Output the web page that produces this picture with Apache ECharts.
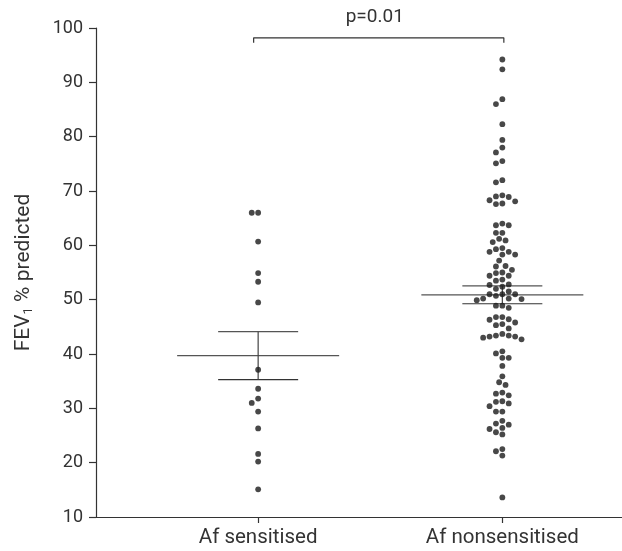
<!DOCTYPE html>
<html><head><meta charset="utf-8">
<script src="https://cdn.jsdelivr.net/npm/echarts@6/dist/echarts.min.js"></script>
<style>html,body{margin:0;padding:0;background:#fff}#c{width:622px;height:551px}</style>
</head><body><div id="c"></div>
<script>
// ---- data ----
const categories = ['Af sensitised', 'Af nonsensitised'];
const sensitised = [66.0, 66.0, 60.7, 54.9, 53.3, 49.5, 37.1, 33.6, 31.8, 31.0, 29.4, 26.3, 21.6, 20.2, 15.1];
const nonsensitised = [
  94.2, 92.4, 86.9, 86.0, 82.3, 79.4, 78.0, 77.1, 75.5, 75.1, 71.6, 72.0,
  69.0, 69.2, 68.9, 68.1, 67.6, 67.7, 68.3,
  63.7, 64.0, 63.7, 62.3, 62.3, 60.9, 60.6, 61.2,
  59.3, 58.8, 58.3, 58.3, 58.8, 59.5, 57.2,
  56.2, 56.1, 55.5, 54.9, 55.0, 54.4, 54.4, 53.7, 53.5,
  52.8, 52.7, 52.4, 52.0, 51.5, 50.7, 51.0, 51.0, 51.0, 50.1, 49.9, 50.2, 50.2, 48.9, 48.5, 48.9,
  46.4, 46.3, 46.8, 46.8, 45.8, 45.3, 44.7, 45.5,
  43.4, 43.2, 43.0, 42.7, 43.2, 43.4, 43.7,
  40.1, 40.5, 39.3, 39.3,
  37.8, 35.9, 34.8, 34.3, 32.9, 32.4, 32.7, 31.2, 30.9, 31.3, 30.4, 29.4, 29.4,
  27.7, 27.0, 27.2, 26.2, 26.4, 25.6, 25.2, 22.5, 22.1, 21.3, 13.6
];
const groupMeans = [39.7, 50.9];
const groupSems = [4.4, 1.65];
const yMin = 10, yMax = 100, yStep = 10;
const pValueText = 'p=0.01';
const bracketLevel = 98.2;
const bracketDrop = 0.9;

// ---- chart ----
const chart = echarts.init(document.getElementById('c'), null, {renderer: 'canvas'});
const FONT = 'Roboto';
const INK = '#333';

const base = {
  animation: false,
  grid: {left: 96, right: 0, top: 28, bottom: 34},
  xAxis: {
    type: 'value', min: 0.336, max: 2.49,
    splitLine: {show: false},
    axisLine: {show: true, lineStyle: {color: INK, width: 1.2}},
    axisTick: {show: true, length: 6, lineStyle: {color: INK, width: 1.2}, customValues: [1, 2]},
    axisLabel: {
      customValues: [1, 2], margin: 10, fontSize: 20.5, color: INK, fontFamily: FONT,
      formatter: v => categories[Math.round(v) - 1] || ''
    }
  },
  yAxis: {
    type: 'value', min: yMin, max: yMax, interval: yStep,
    splitLine: {show: false},
    axisLine: {show: true, lineStyle: {color: INK, width: 1.2}},
    axisTick: {show: true, length: 7, lineStyle: {color: INK, width: 1.2}},
    axisLabel: {margin: 13, fontSize: 18, color: INK, fontFamily: FONT},
    name: 'FEV{s|1} % predicted',
    nameLocation: 'middle', nameGap: 61, nameRotate: 90,
    nameTextStyle: {
      fontSize: 21, color: INK, fontFamily: FONT,
      rich: {s: {fontSize: 13, color: INK, fontFamily: FONT, padding: [9, 0, 0, 0]}}
    }
  },
  series: []
};
chart.setOption(base);

const p0 = chart.convertToPixel({gridIndex: 0}, [1, 0]);
const p1 = chart.convertToPixel({gridIndex: 0}, [2, 1]);
const pxPerX = p1[0] - p0[0];
const pxPerY = p0[1] - p1[1];

function swarm(vals, cat) {
  const d = 6.4, step = d / 2;
  const sorted = vals.slice().sort((a, b) => b - a);
  const placed = [], out = [];
  for (const v of sorted) {
    const y = v * pxPerY;
    let off = 0;
    for (let i = 0; i < 60; i++) {
      const o = i === 0 ? 0 : (i % 2 ? -1 : 1) * Math.ceil(i / 2) * step;
      if (placed.every(p => Math.hypot(p[0] - o, p[1] - y) >= d)) { off = o; break; }
    }
    placed.push([off, y]);
    out.push([cat + off / pxPerX, v]);
  }
  return out;
}

const meanHalf = 81 / pxPerX, semHalf = 40 / pxPerX;
const bracketInset = [-4.5 / pxPerX, 1.5 / pxPerX];

const series = [
  {
    type: 'custom',
    data: categories.map((c, i) => [i + 1, groupMeans[i], groupSems[i]]),
    renderItem: (params, api) => {
      const c = api.value(0), m = api.value(1), s = api.value(2);
      const seg = (a, b, col) => ({
        type: 'line',
        shape: {x1: a[0], y1: a[1], x2: b[0], y2: b[1]},
        style: {stroke: col, lineWidth: 1.2}
      });
      return {
        type: 'group',
        children: [
          seg(api.coord([c - meanHalf, m]), api.coord([c + meanHalf, m]), '#555'),
          seg(api.coord([c - semHalf, m + s]), api.coord([c + semHalf, m + s]), '#555'),
          seg(api.coord([c - semHalf, m - s]), api.coord([c + semHalf, m - s]), '#333'),
          seg(api.coord([c, m - s]), api.coord([c, m + s]), '#444')
        ]
      };
    },
    z: 1
  },
  {
    type: 'scatter', data: swarm(sensitised, 1),
    symbol: 'circle', symbolSize: 5.8, itemStyle: {color: '#1a1a1a'}, z: 2
  },
  {
    type: 'scatter', data: swarm(nonsensitised, 2),
    symbol: 'circle', symbolSize: 5.8, itemStyle: {color: '#1a1a1a'}, z: 2
  },
  {
    type: 'line',
    data: [
      [1 + bracketInset[0], bracketLevel - bracketDrop], [1 + bracketInset[0], bracketLevel],
      [2 + bracketInset[1], bracketLevel], [2 + bracketInset[1], bracketLevel - bracketDrop]
    ],
    symbol: 'none', lineStyle: {color: '#333', width: 1.2}, z: 3
  }
];

const b1 = chart.convertToPixel({gridIndex: 0}, [1 + bracketInset[0], bracketLevel]);
const b2 = chart.convertToPixel({gridIndex: 0}, [2 + bracketInset[1], bracketLevel]);

chart.setOption({
  series: series,
  graphic: [{
    type: 'text',
    x: (b1[0] + b2[0]) / 2 - 4, y: b1[1] - 21,
    style: {text: pValueText, fontSize: 19, fill: INK, fontFamily: FONT, textAlign: 'center', textVerticalAlign: 'middle'}
  }]
});
</script>
</body></html>
